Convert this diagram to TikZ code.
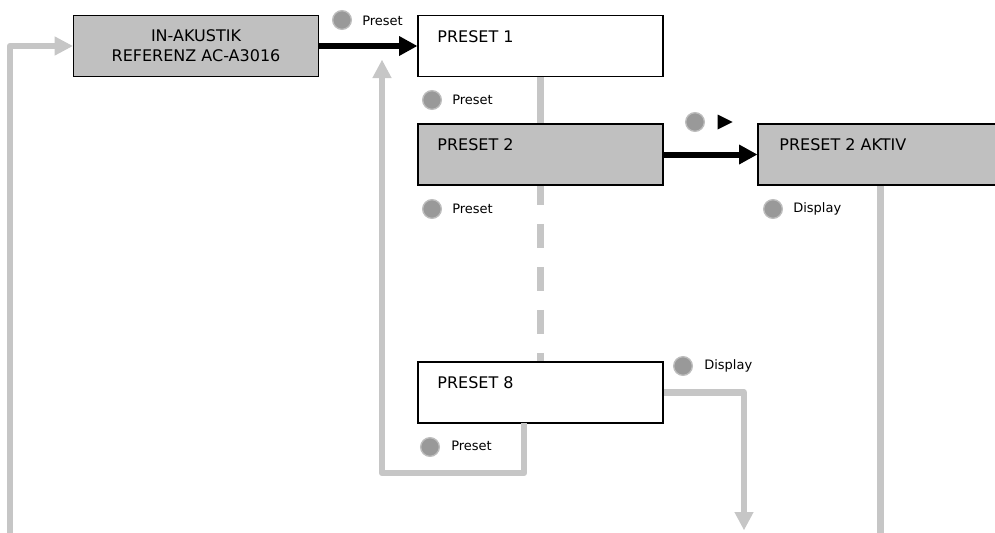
\documentclass[tikz,border=0pt]{standalone}
\usepackage{fontspec}
\setmainfont{DejaVu Sans}
\usetikzlibrary{calc}
\usetikzlibrary{positioning}
\usetikzlibrary{arrows.meta}

\definecolor{boxgray}{HTML}{C0C0C0}
\definecolor{linegray}{HTML}{C6C6C6}
\definecolor{dotgray}{HTML}{999999}
\definecolor{dotedge}{HTML}{BDBDBD}

\begin{document}
\begin{tikzpicture}[x=0.75pt,y=0.75pt,yscale=-1,xscale=1,
    box/.style={draw, line width=1.3pt, minimum width=183.75pt, minimum height=45.75pt, inner sep=0pt},
    boxtext/.style={inner sep=0pt, anchor=base west, font=\fontsize{12}{15}\selectfont},
    btn/.style={circle, fill=dotgray, draw=dotedge, line width=1pt, minimum size=14pt, inner sep=0pt},
    btntext/.style={inner sep=0pt, anchor=base west, font=\fontsize{9.75}{12}\selectfont},
    flow/.style={line width=4.5pt, -{Triangle[length=13.5pt,width=15pt,line width=0pt]}},
    back/.style={draw=linegray, line width=4.9pt, line join=round},
    backarrow/.style={back, -{Triangle[length=13.5pt,width=14.5pt,line width=0pt]}}]
            \clip (0,0) rectangle (995,532);

            %Shape: Boxes
            \node [box, fill=boxgray, align=center, font=\fontsize{12}{15}\selectfont] (inak) at (196,46) {IN-AKUSTIK\\REFERENZ AC-A3016};
            \node [box, fill=white] (p1) at (540.5,46) {};
            \node [box, fill=boxgray] (p2) at (540.5,154.5) {};
            \node [box, fill=boxgray] (aktiv) at (880.5,154.5) {};
            \node [box, fill=white] (p8) at (540.5,392.5) {};

            % Text Node
            \node [boxtext] (p1text) at ($(p1.north west)+(20,27.5)$) {PRESET 1};
            \node [boxtext] (p2text) at ($(p2.north west)+(20,27.5)$) {PRESET 2};
            \node [boxtext] (aktivtext) at ($(aktiv.north west)+(22,27.5)$) {PRESET 2 AKTIV};
            \node [boxtext] (p8text) at ($(p8.north west)+(20,27.5)$) {PRESET 8};

            %Connectors
            \coordinate (lb) at (10,540);
            \coordinate (p8out) at (524,423);
            \coordinate (up) at (382,60);
            \coordinate (dn) at (744,530);
            \coordinate (aend) at (880.5,540);
            \draw [backarrow] (lb) |- (inak.west);
            \draw [back] (p1.south) -- (p2.north);
            \draw [back, dash pattern=on 18pt off 14.25pt, dash phase=3.75pt] (p2.south) -- (p8.north);
            \draw [backarrow] (p8out) -- ++(0,50) -| (up);
            \draw [backarrow] (p8.east) -| (dn);
            \draw [back] (aktiv.south) -- (aend);
            \draw [flow] (inak) -- (p1);
            \draw [flow] (p2) -- (aktiv);

            %Buttons
            \node [btn] (b1) at (342,20) {};
            \node [btntext] (b1text) at (362,25) {Preset};
            \node [btn] (b2) at (432,100) {};
            \node [btntext] (b2text) at (452,104) {Preset};
            \node [btn] (b3) at (432,209) {};
            \node [btntext] (b3text) at (452,213) {Preset};
            \node [btn] (b4) at (695,122) {};
            \fill (717.5,114.5) -- (732.5,122) -- (717.5,129.5) -- cycle;
            \node [btn] (b5) at (773,209) {};
            \node [btntext] (b5text) at (793,212) {Display};
            \node [btn] (b6) at (683,366) {};
            \node [btntext] (b6text) at (704,369) {Display};
            \node [btn] (b7) at (430,447) {};
            \node [btntext] (b7text) at (451,450) {Preset};

\end{tikzpicture}
\end{document}
